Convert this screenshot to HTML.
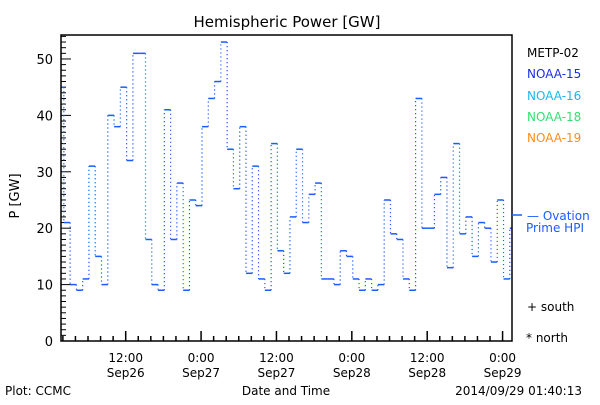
<!DOCTYPE html>
<html><head><meta charset="utf-8"><style>
body{margin:0;background:#fff;}
svg text{font-family:"DejaVu Sans","Liberation Sans",sans-serif;}
</style></head><body>
<svg width="600" height="400" viewBox="0 0 600 400" xmlns="http://www.w3.org/2000/svg">
<rect width="600" height="400" fill="#fff"/>
<text x="287" y="27" font-size="15" text-anchor="middle">Hemispheric Power [GW]</text>
<text transform="translate(19,196) rotate(-90)" font-size="13" text-anchor="middle">P [GW]</text>
<g id="ticks"></g>
<g id="series"></g>
<rect x="61" y="35" width="451" height="306" fill="none" stroke="#000" stroke-width="1.5"/>
<line x1="512" y1="215" x2="522" y2="215" stroke="#1a5cff" stroke-width="1.5"/>
<text x="527" y="220" font-size="12" fill="#1a5cff">— Ovation</text>
<text x="526" y="232" font-size="12" fill="#1a5cff">Prime HPI</text>
<text x="527" y="57" font-size="12" fill="#000">METP-02</text>
<text x="527" y="78" font-size="12" fill="#1a2fe0">NOAA-15</text>
<text x="527" y="100" font-size="12" fill="#1ab8f0">NOAA-16</text>
<text x="527" y="121" font-size="12" fill="#33e070">NOAA-18</text>
<text x="527" y="142" font-size="12" fill="#ff8c1a">NOAA-19</text>
<text x="527" y="311" font-size="12">+ south</text>
<text x="526" y="342" font-size="12">* north</text>
<text x="5" y="395" font-size="12">Plot: CCMC</text>
<text x="286" y="395" font-size="12" text-anchor="middle">Date and Time</text>
<text x="582" y="395" font-size="12" text-anchor="end">2014/09/29 01:40:13</text>
</svg>
<script>
// hourly values, starting hour 1 of Sep26 (each step starts at hh:10)
const startHour = 1;
const values = [45,21,10,9,11,31,15,10,40,38,45,32,51,51,18,10,9,41,18,28,9,25,24,38,43,46,53,34,27,38,12,31,11,9,35,16,12,22,34,21,26,28,11,11,10,16,15,11,9,11,9,10,25,19,18,11,9,43,20,20,26,29,13,35,19,22,15,21,20,14,25,11,20];
const yTicks = [0,10,20,30,40,50];
const xTickHours = [12,24,36,48,60,72];
const xTickTimes = ["12:00","0:00","12:00","0:00","12:00","0:00"];
const xTickDates = ["Sep26","Sep27","Sep27","Sep28","Sep28","Sep29"];

const X0=61,X1=512,Y0=341,Y1=35;
const hMin=1.7,hMax=73.5,vMax=54.25;
const xs=h=>X0+(h-hMin)/(hMax-hMin)*(X1-X0);
const ys=v=>Y0-v/vMax*(Y0-Y1);
const NS="http://www.w3.org/2000/svg";
const ticks=document.getElementById('ticks');
const series=document.getElementById('series');
function mk(tag,attrs,parent){const e=document.createElementNS(NS,tag);for(const k in attrs)e.setAttribute(k,attrs[k]);parent.appendChild(e);return e;}

for(let v=0;v<=54;v++){
  const l=mk('line',{x1:X0,x2:X0+(v%10===0?10:5),y1:ys(v),y2:ys(v),stroke:'#000','stroke-width':1},ticks);
  
  
}
yTicks.forEach(v=>{
  const t=mk('text',{x:X0-8,y:ys(v)+5,'font-size':13,'text-anchor':'end'},ticks);
  t.textContent=v;
  
  
});
for(let h=2;h<=hMax;h+=2){
  const major=h%12===0;
  const l=mk('line',{x1:xs(h),x2:xs(h),y1:Y0,y2:Y0-(major?10:5),stroke:'#000','stroke-width':1.5},ticks);
  
  
}
xTickHours.forEach((h,i)=>{
  const t=mk('text',{x:xs(h),y:362,'font-size':12,'text-anchor':'middle'},ticks);
  t.textContent=xTickTimes[i];
  
  
  const d=mk('text',{x:xs(h),y:377,'font-size':12,'text-anchor':'middle'},ticks);
  d.textContent=xTickDates[i];
  
  
});
let prevY=null;
values.forEach((v,i)=>{
  let a=startHour+i+0.15,b=a+1;
  a=Math.max(a,hMin);b=Math.min(b,hMax);
  if(b<=a)return;
  const y=ys(v);
  const l=mk('line',{x1:xs(a),x2:xs(b),y1:y,y2:y,stroke:'#1a5cff','stroke-width':1.5},series);
  
  
  if(prevY!==null){
    const c=mk('line',{x1:xs(a),x2:xs(a),y1:prevY,y2:y,stroke:'#1a5cff','stroke-width':1.2,'stroke-dasharray':'1.2,2.8'},series);
    
    
  }
  prevY=y;
});
</script>
</body></html>
